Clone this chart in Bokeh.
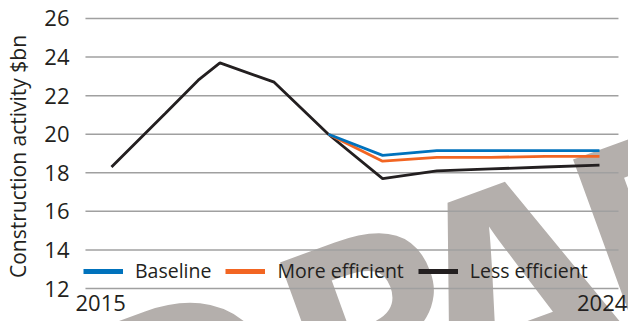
from bokeh.plotting import figure
from bokeh.models import Range1d, Legend, LegendItem, Label
from bokeh.core.properties import value
from bokeh.embed import file_html
from bokeh.resources import INLINE

# ---- data ----
years_less = [2015, 2016, 2016.6, 2017, 2018, 2019, 2020, 2021, 2022, 2023, 2024]
less_efficient = [18.3, 21.1, 22.8, 23.7, 22.7, 20.0, 17.7, 18.1, 18.2, 18.3, 18.4]
years_scen = [2019, 2020, 2021, 2022, 2023, 2024]
baseline = [20.0, 18.9, 19.15, 19.15, 19.15, 19.15]
more_efficient = [20.0, 18.6, 18.8, 18.8, 18.85, 18.85]
y_ticks = [12, 14, 16, 18, 20, 22, 24, 26]
y_tick_labels = ["12", "14", "16", "18", "20", "22", "24", "26"]
x_tick_labels = ["2015", "2024"]
x_tick_pos = [2014.8, 2024.05]
series_names = ["Baseline", "More efficient", "Less efficient"]
y_title = "Construction activity $bn"
watermark_letters = ["D", "R", "A", "F", "T"]

BLUE = "#0072bc"
ORANGE = "#f26522"
BLACK = "#231f20"
TXT = "#231f20"
FONT = "Open Sans"

# plotting area spans the whole canvas so the watermark can run under the axis labels
X0, X1 = 2012.953, 2024.535
Y0, Y1 = 10.289, 26.933
GRID_X0, GRID_X1 = 2014.52, 2024.35

p = figure(width=628, height=321, output_backend="svg", toolbar_location=None,
           x_range=Range1d(X0, X1), y_range=Range1d(Y0, Y1),
           x_axis_location=None, y_axis_location=None, min_border=0)
p.outline_line_color = None
p.background_fill_color = "white"
p.border_fill_color = "white"
p.grid.visible = False

# watermark (screen px from bottom-left), beneath everything else
wm_pos = [(158.3, -285.0), (352.3, -214.4), (483.0, -223.0), (645.3, -111.4), (785.8, -57.9)]
wm_size = ["280px", "280px", "330px", "280px", "280px"]
for ch, (wx, wy), fs in zip(watermark_letters, wm_pos, wm_size):
    p.add_layout(Label(x=wx, y=wy, x_units="screen", y_units="screen", text=ch,
                       angle=20, angle_units="deg", text_font=FONT, text_font_style="bold",
                       text_font_size=fs, text_color="#b4afac",
                       text_baseline="bottom", text_align="left", level="image"))

# horizontal gridlines
p.segment(x0=[GRID_X0] * len(y_ticks), x1=[GRID_X1] * len(y_ticks), y0=y_ticks, y1=y_ticks,
          line_color="#a0a0a0", line_width=1.5)

# y tick labels
p.text(x=[GRID_X0] * len(y_ticks), y=y_ticks, text=y_tick_labels, x_offset=-16,
       text_align="right", text_baseline="middle", text_font=value(FONT),
       text_font_size="22px", text_color=TXT)
# x tick labels
p.text(x=x_tick_pos, y=[y_ticks[0]] * len(x_tick_pos), text=x_tick_labels, y_offset=6,
       text_align="center", text_baseline="top", text_font=value(FONT),
       text_font_size="22px", text_color=TXT)
# y axis title
p.text(x=[GRID_X0], y=[(y_ticks[0] + y_ticks[-1]) / 2], text=[y_title], x_offset=-67,
       y_offset=3, angle=90, angle_units="deg", text_align="center", text_baseline="middle",
       text_font=value(FONT), text_font_size="21px", text_color=TXT)

# lines
p.line(years_less, less_efficient, line_color=BLACK, line_width=2.8)
p.line(years_scen, more_efficient, line_color=ORANGE, line_width=2.8)
p.line(years_scen, baseline, line_color=BLUE, line_width=2.8)

# legend proxies (thicker strokes, no visible data)
nan = float("nan")
lb = p.line([nan], [nan], line_color=BLUE, line_width=5)
lo = p.line([nan], [nan], line_color=ORANGE, line_width=5)
ll = p.line([nan], [nan], line_color=BLACK, line_width=5)
legend = Legend(items=[LegendItem(label=series_names[0], renderers=[lb]),
                       LegendItem(label=series_names[1], renderers=[lo]),
                       LegendItem(label=series_names[2], renderers=[ll])],
                orientation="horizontal", location=(83, 37),
                glyph_width=40, glyph_height=20, label_standoff=12, spacing=14,
                padding=0, margin=0, border_line_color=None, background_fill_alpha=0,
                label_text_font=FONT, label_text_font_size="19.5px", label_text_color=TXT)
p.add_layout(legend, "center")

open("out.html", "w").write(file_html(p, INLINE))
